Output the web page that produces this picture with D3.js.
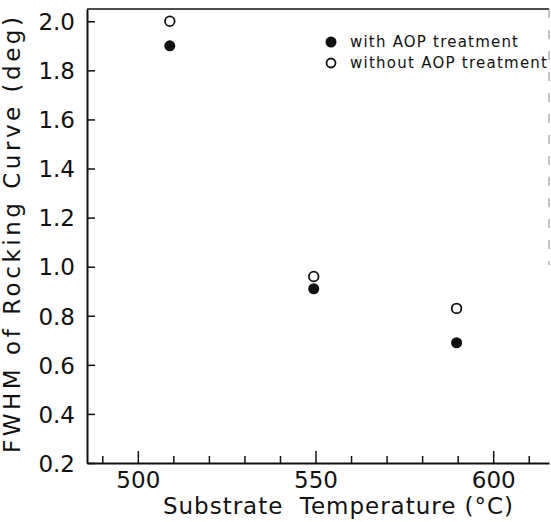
<!DOCTYPE html>
<html>
<head>
<meta charset="utf-8">
<script src="https://cdn.jsdelivr.net/npm/d3@7"></script>
<style>
  html, body { margin: 0; padding: 0; background: #fff; }
  svg { display: block; }
  text { font-family: "DejaVu Sans", sans-serif; fill: #111; }
</style>
</head>
<body>
<svg id="chart" width="551" height="522"></svg>
<script>
// ---- data ----
const temperatures = [509, 549.5, 589.7];
const withAOP = [1.90, 0.91, 0.69];
const withoutAOP = [2.00, 0.96, 0.83];
const seriesNames = ["with AOP treatment", "without AOP treatment"];
const xMajorTicks = [500, 550, 600];
const xMinorTicks = [490, 510, 520, 530, 540, 560, 570, 580, 590, 610];
const yTicks = [0.2, 0.4, 0.6, 0.8, 1.0, 1.2, 1.4, 1.6, 1.8, 2.0];
const xTitle = "Substrate  Temperature (°C)";
const yTitle = "FWHM of Rocking Curve (deg)";

// ---- layout ----
const svg = d3.select("#chart");
const plotL = 87, plotR = 549, plotT = 9, plotB = 463;

const x = d3.scaleLinear().domain([485.7, 615.7]).range([plotL, plotR]);
const y = d3.scaleLinear().domain([0.2, 2.05]).range([plotB, plotT]);

// top border
svg.append("line")
  .attr("x1", plotL).attr("x2", plotR).attr("y1", plotT).attr("y2", plotT)
  .attr("stroke", "#111").attr("stroke-width", 1.6);
// faint broken right border
svg.append("line")
  .attr("x1", plotR).attr("x2", plotR).attr("y1", plotT).attr("y2", 265)
  .attr("stroke", "#888").attr("stroke-width", 1)
  .attr("stroke-dasharray", "9,12");

// y axis (inward ticks)
const yAxis = svg.append("g")
  .attr("transform", `translate(${plotL},0)`)
  .call(d3.axisLeft(y).tickValues(yTicks).tickFormat(d3.format(".1f"))
    .tickSize(-8).tickSizeOuter(0).tickPadding(12));
yAxis.select(".domain").attr("stroke", "#111").attr("stroke-width", 2);
yAxis.selectAll(".tick line").attr("stroke", "#111").attr("stroke-width", 1.5);
yAxis.selectAll(".tick text").attr("font-size", 23).attr("fill", "#111")
  .style("font-family", "DejaVu Sans, sans-serif").attr("dy", "0.36em");

// x axis minor ticks
const xMinor = svg.append("g")
  .attr("transform", `translate(0,${plotB})`)
  .call(d3.axisBottom(x).tickValues(xMinorTicks).tickFormat("")
    .tickSize(-7).tickSizeOuter(0));
xMinor.select(".domain").remove();
xMinor.selectAll(".tick line").attr("stroke", "#111").attr("stroke-width", 1.5);

// x axis major ticks with labels
const xAxis = svg.append("g")
  .attr("transform", `translate(0,${plotB})`)
  .call(d3.axisBottom(x).tickValues(xMajorTicks).tickFormat(d3.format("d"))
    .tickSize(-12).tickSizeOuter(0).tickPadding(9));
xAxis.select(".domain").attr("stroke", "#111").attr("stroke-width", 2);
xAxis.selectAll(".tick line").attr("stroke", "#111").attr("stroke-width", 1.5);
xAxis.selectAll(".tick text").attr("font-size", 23).attr("fill", "#111")
  .style("font-family", "DejaVu Sans, sans-serif");

// axis titles
svg.append("text")
  .attr("x", 338).attr("y", 514)
  .attr("text-anchor", "middle")
  .attr("font-size", 23)
  .attr("textLength", 350).attr("lengthAdjust", "spacing")
  .style("white-space", "pre")
  .text(xTitle);

svg.append("text")
  .attr("transform", "translate(20,235) rotate(-90)")
  .attr("text-anchor", "middle")
  .attr("font-size", 23)
  .attr("textLength", 436).attr("lengthAdjust", "spacing")
  .text(yTitle);

// data points
const pts = temperatures.map((t, i) => ({ t, a: withAOP[i], b: withoutAOP[i] }));
svg.append("g").selectAll("circle").data(pts).join("circle")
  .attr("cx", d => x(d.t)).attr("cy", d => y(d.b)).attr("r", 4.8)
  .attr("fill", "#fff").attr("stroke", "#111").attr("stroke-width", 1.8);
svg.append("g").selectAll("circle").data(pts).join("circle")
  .attr("cx", d => x(d.t)).attr("cy", d => y(d.a)).attr("r", 5.5)
  .attr("fill", "#111");

// legend
const legendX = 331, legendY = [42, 63];
const legendLen = [168, 197];
svg.append("circle").attr("cx", legendX).attr("cy", legendY[0]).attr("r", 5.5).attr("fill", "#111");
svg.append("circle").attr("cx", legendX).attr("cy", legendY[1]).attr("r", 4.5)
  .attr("fill", "#fff").attr("stroke", "#111").attr("stroke-width", 1.8);
seriesNames.forEach((name, i) => {
  svg.append("text")
    .attr("x", 350).attr("y", legendY[i] + 5)
    .attr("font-size", 15)
    .attr("textLength", legendLen[i]).attr("lengthAdjust", "spacing")
    .text(name);
});
</script>
</body>
</html>
